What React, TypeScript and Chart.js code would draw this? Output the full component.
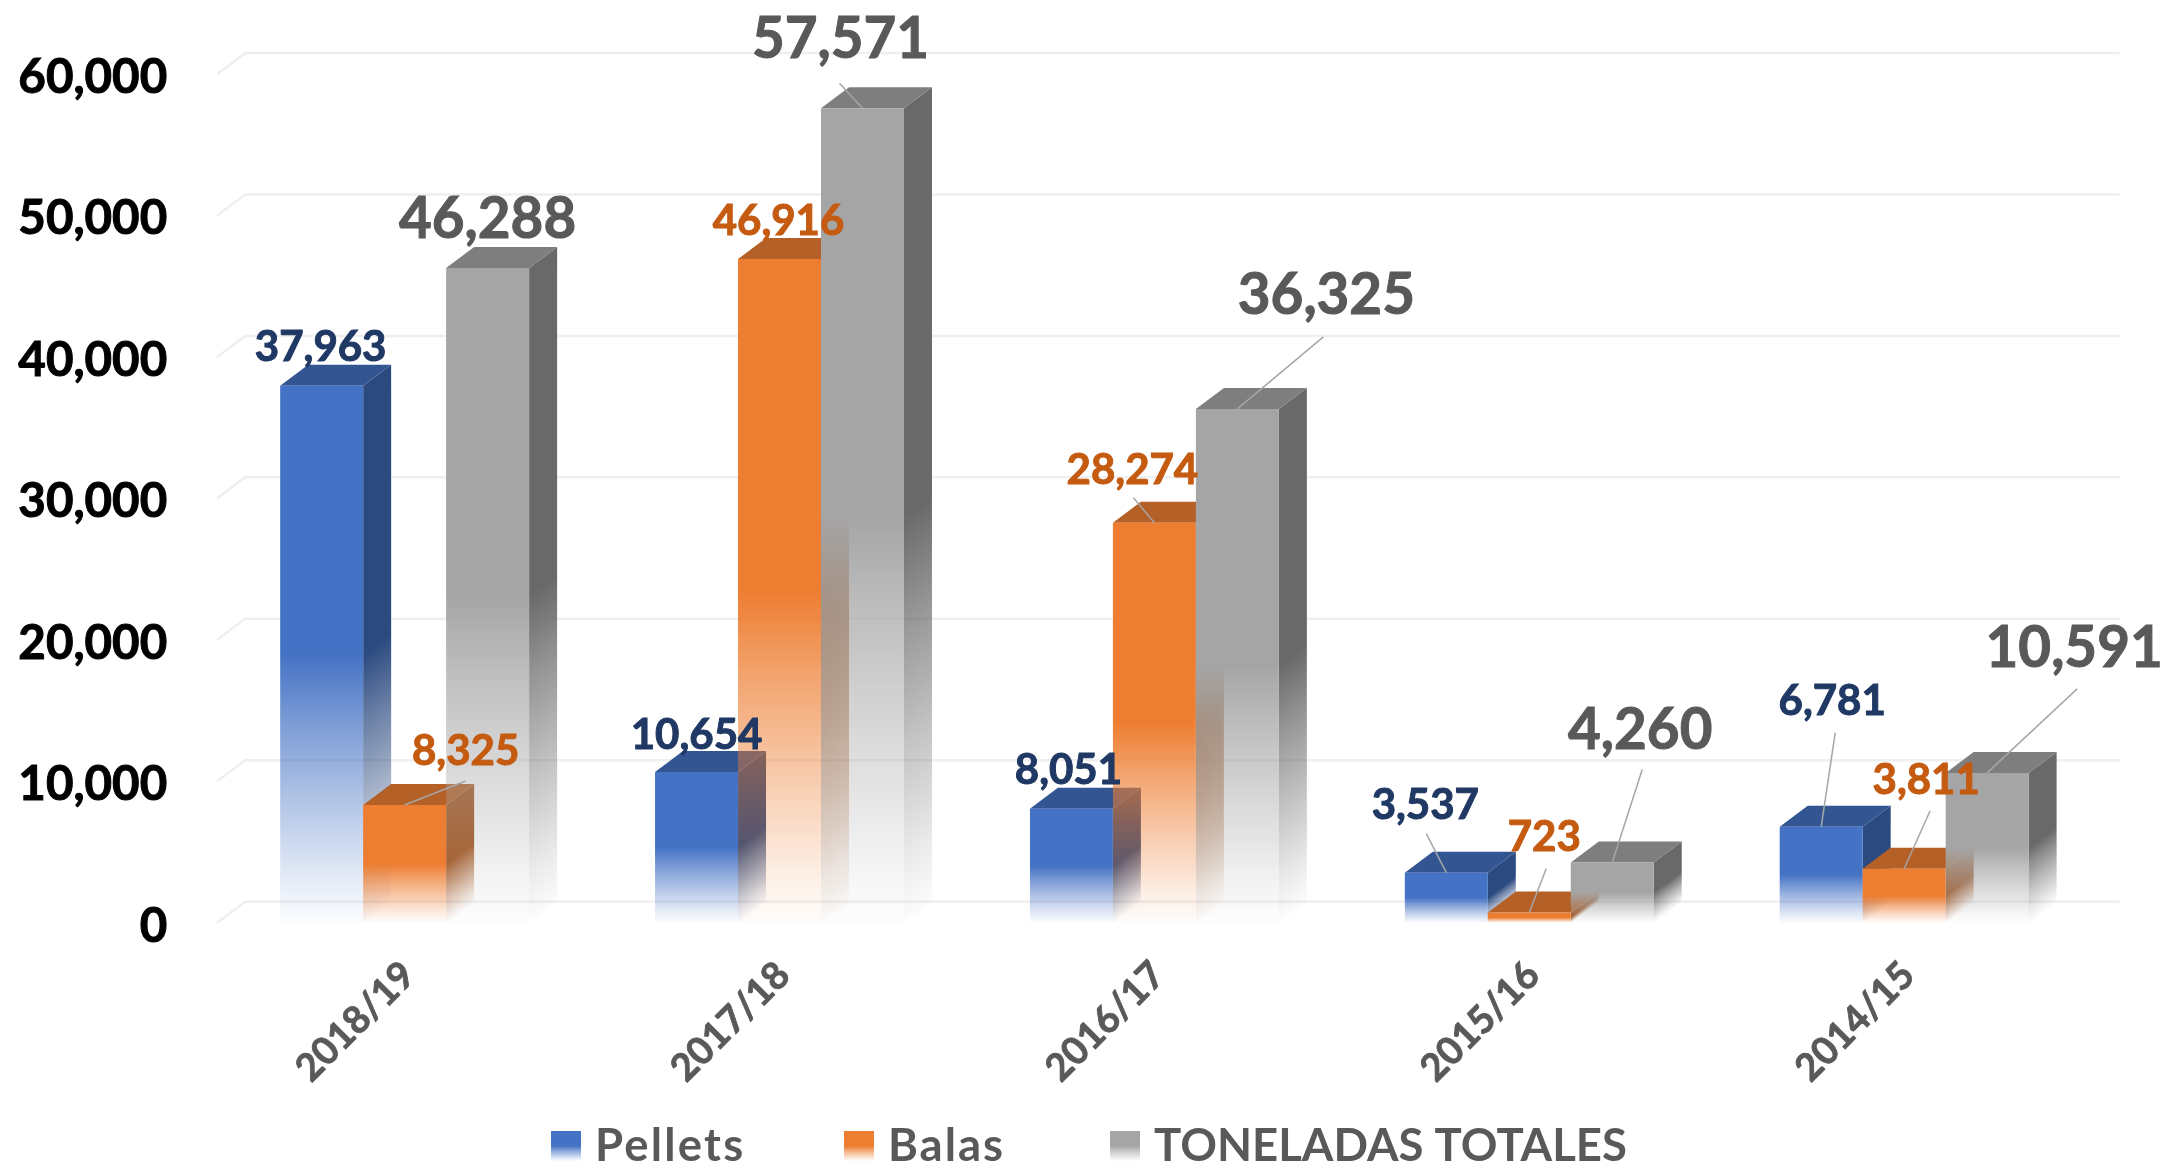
import React, { useEffect, useRef } from "react";
import { Chart, registerables } from "chart.js";

Chart.register(...registerables);

const categories = ["2018/19", "2017/18", "2016/17", "2015/16", "2014/15"];
const pellets = [37963, 10654, 8051, 3537, 6781];
const balas = [8325, 46916, 28274, 723, 3811];
const totales = [46288, 57571, 36325, 4260, 10591];
const seriesNames = ["Pellets", "Balas", "TONELADAS TOTALES"];

const FONT = "Lato, Carlito, sans-serif";
const WEIGHT = "bold";
const DEPTH_X = 28;
const DEPTH_Y = 21;
const fades: [number, number][] = [[0, 1], [0.5, 1], [0.62, 0.72], [0.77, 0.42], [0.92, 0.14], [1, 0.02]];

const styles = [
  { front: [68, 114, 196], side: [43, 74, 128], top: [51, 85, 146], label: "#1f3864", size: 42 },
  { front: [237, 125, 49], side: [166, 88, 34], top: [180, 96, 38], label: "#c55a11", size: 42 },
  { front: [165, 165, 165], side: [105, 105, 105], top: [126, 126, 126], label: "#595959", size: 56.5 },
];

// label centre, relative to the centre of the bar's top edge
const labelOffsets: [number, number][][] = [
  [[-1, -38], [0, -37], [-3, -38], [-21, -67], [11, -125]],
  [[61, -53], [-1, -38], [-22, -52], [15, -75], [22, -88]],
  [[0, -48], [-22, -69], [89, -113], [28, -132], [87, -124]],
];
// leader-line start, relative to the centre of the bar's top edge
const leaderOffsets: ([number, number] | null)[][] = [
  [null, null, null, [-20, -39], [14, -94]],
  [[61, -24], null, [-21, -25], [17, -44], [26, -58]],
  [null, [-23, -25], [86, -72], [30, -93], [90, -84]],
];
const legendSpacing = ["2.2px", "2px", "0px"];
const legendPitch = [293, 266, 0];

function addStops(g: CanvasGradient, c: number[]) {
  fades.forEach(([o, a]) => g.addColorStop(o, `rgba(${c[0]},${c[1]},${c[2]},${a})`));
  return g;
}

const bar3d = {
  id: "bar3d",
  beforeDatasetsDraw(chart: any) {
    const { ctx, scales, chartArea } = chart;
    ctx.save();
    ctx.strokeStyle = "#efefef";
    ctx.lineWidth = 2.5;
    scales.y.ticks.forEach((t: any) => {
      const y = scales.y.getPixelForValue(t.value);
      ctx.beginPath();
      ctx.moveTo(chartArea.left, y);
      ctx.lineTo(chartArea.left + DEPTH_X, y - DEPTH_Y);
      ctx.lineTo(chartArea.right + DEPTH_X, y - DEPTH_Y);
      ctx.stroke();
    });
    ctx.restore();
  },
  beforeDatasetDraw() {
    return false;
  },
  afterDatasetsDraw(chart: any) {
    const { ctx } = chart;
    const metas = [0, 1, 2].map((i) => chart.getDatasetMeta(i));
    metas.forEach((meta: any, s: number) => {
      const st = styles[s];
      meta.data.forEach((bar: any) => {
        const l = bar.x - bar.width / 2;
        const r = bar.x + bar.width / 2;
        const h = bar.base - bar.y;
        ctx.save();
        const g = ctx.createLinearGradient(r, bar.y, r + 0.48 * h, bar.y + 0.64 * h);
        ctx.fillStyle = addStops(g, st.side);
        ctx.beginPath();
        ctx.moveTo(r, bar.y);
        ctx.lineTo(r + DEPTH_X, bar.y - DEPTH_Y);
        ctx.lineTo(r + DEPTH_X, bar.base - DEPTH_Y);
        ctx.lineTo(r, bar.base);
        ctx.closePath();
        ctx.fill();
        ctx.fillStyle = `rgb(${st.top.join(",")})`;
        ctx.beginPath();
        ctx.moveTo(l, bar.y);
        ctx.lineTo(l + DEPTH_X, bar.y - DEPTH_Y);
        ctx.lineTo(r + DEPTH_X, bar.y - DEPTH_Y);
        ctx.lineTo(r, bar.y);
        ctx.closePath();
        ctx.fill();
        ctx.restore();
        bar.draw(ctx);
      });
    });
    metas.forEach((meta: any, s: number) => {
      const st = styles[s];
      meta.data.forEach((bar: any, i: number) => {
        const lead = leaderOffsets[s][i];
        ctx.save();
        if (lead) {
          ctx.strokeStyle = "#a6a6a6";
          ctx.lineWidth = 1.5;
          ctx.beginPath();
          ctx.moveTo(bar.x + lead[0], bar.y + lead[1]);
          ctx.lineTo(bar.x, bar.y);
          ctx.stroke();
        }
        const [dx, dy] = labelOffsets[s][i];
        ctx.font = `${WEIGHT} ${st.size}px ${FONT}`;
        ctx.fillStyle = st.label;
        ctx.strokeStyle = st.label;
        ctx.lineWidth = 1;
        ctx.textAlign = "center";
        ctx.textBaseline = "middle";
        const text = chart.data.datasets[s].data[i].toLocaleString("en-US");
        ctx.strokeText(text, bar.x + dx, bar.y + dy);
        ctx.fillText(text, bar.x + dx, bar.y + dy);
        ctx.restore();
      });
    });
    // legend
    const swatch = 30;
    const textGap = 14;
    const y = 1146;
    ctx.save();
    ctx.font = `bold 45.5px ${FONT}`;
    ctx.textBaseline = "middle";
    ctx.textAlign = "left";
    let x = 551;
    seriesNames.forEach((n, s) => {
      const g = ctx.createLinearGradient(0, y - 15, 0, y + 15);
      ctx.fillStyle = addStops(g, styles[s].front);
      ctx.fillRect(x, y - 15, swatch, swatch);
      ctx.fillStyle = "#595959";
      (ctx as any).letterSpacing = legendSpacing[s];
      ctx.fillText(n, x + swatch + textGap, y);
      x += legendPitch[s];
    });
    ctx.restore();
  },
};

function frontFill(s: number) {
  return (c: any) => {
    const solid = `rgb(${styles[s].front.join(",")})`;
    const y = c.chart.scales.y;
    if (!y || typeof c.raw !== "number") return solid;
    const y0 = y.getPixelForValue(c.raw);
    const y1 = y.getPixelForValue(0);
    if (!Number.isFinite(y0) || !Number.isFinite(y1)) return solid;
    return addStops(c.chart.ctx.createLinearGradient(0, y0, 0, y1), styles[s].front);
  };
}

export default function App() {
  const ref = useRef<HTMLCanvasElement>(null);
  useEffect(() => {
    document.body.style.margin = "0";
    const chart = new Chart(ref.current as HTMLCanvasElement, {
      type: "bar",
      data: {
        labels: categories,
        datasets: [pellets, balas, totales].map((data, s) => ({
          label: seriesNames[s],
          data,
          backgroundColor: frontFill(s),
          borderWidth: 0,
          categoryPercentage: 0.664,
          barPercentage: 1,
        })),
      },
      options: {
        responsive: false,
        animation: false,
        layout: { padding: { left: 0, right: 77.4, top: 74, bottom: 0 } },
        plugins: { legend: { display: false }, tooltip: { enabled: false } },
        scales: {
          x: {
            grid: { display: false },
            border: { display: false },
            ticks: {
              minRotation: 45,
              maxRotation: 45,
              padding: 22,
              labelOffset: 4,
              color: "#595959",
              textStrokeColor: "#595959",
              textStrokeWidth: 0.8,
              font: { family: FONT, weight: "bold", size: 38 },
            },
            afterFit: (s: any) => {
              s.height = 243.3;
              s.paddingLeft = 0;
              s.paddingRight = 0;
              s.paddingTop = 0;
              s.paddingBottom = 0;
            },
          },
          y: {
            min: 0,
            max: 60000,
            grid: { display: false, drawTicks: false },
            border: { display: false },
            ticks: {
              stepSize: 10000,
              padding: 50,
              labelOffset: 3.5,
              color: "#000000",
              textStrokeColor: "#000000",
              textStrokeWidth: 1,
              font: { family: FONT, weight: WEIGHT, size: 47.5 },
              callback: (v: any) => Number(v).toLocaleString("en-US"),
            },
            afterFit: (s: any) => {
              s.width = 217.2;
              s.paddingTop = 0;
              s.paddingBottom = 0;
              s.paddingLeft = 0;
              s.paddingRight = 0;
            },
          },
        },
      },
      plugins: [bar3d],
    } as any);
    return () => chart.destroy();
  }, []);
  return (
    <div style={{ background: "#fff", width: 2169, height: 1166 }}>
      <canvas ref={ref} width={2169} height={1166} style={{ display: "block" }} />
    </div>
  );
}
